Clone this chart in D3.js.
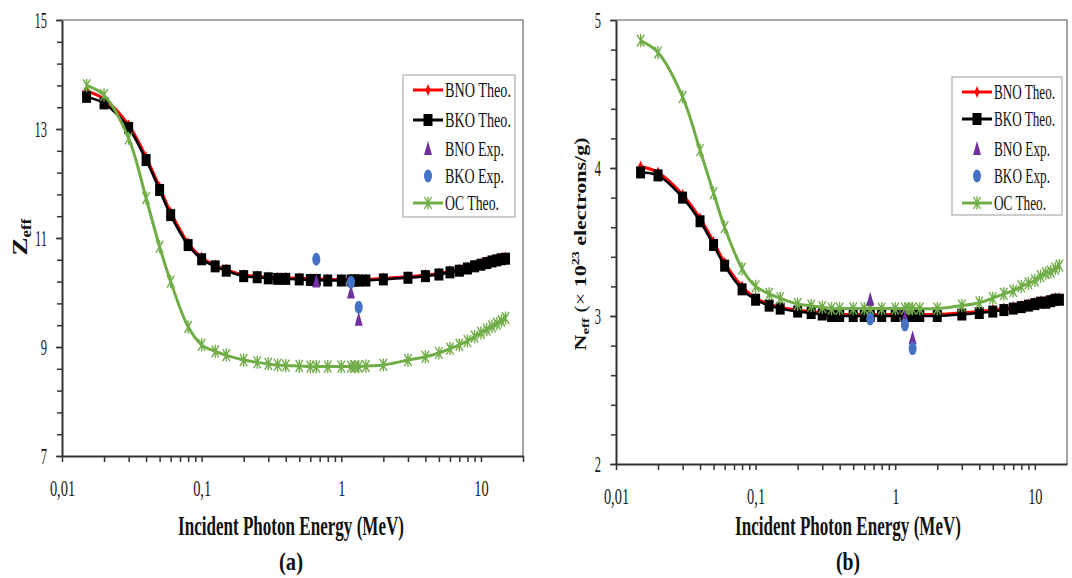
<!DOCTYPE html>
<html>
<head>
<meta charset="utf-8">
<script src="https://cdn.jsdelivr.net/npm/d3@7"></script>
<style>
  body { margin: 0; background: #fff; }
  svg { display: block; font-family: "Liberation Serif", "Times New Roman", serif; }
</style>
</head>
<body>
<svg width="1072" height="578"></svg>
<script>
// photon energies (MeV) for the theoretical curves
var energy = [0.015, 0.02, 0.03, 0.04, 0.05, 0.06, 0.08, 0.1, 0.125, 0.15, 0.2, 0.25, 0.3, 0.35, 0.4, 0.5, 0.6, 0.662, 0.8, 1,
              1.173, 1.25, 1.332, 1.5, 2, 3, 4, 5, 6, 7, 8, 9, 10, 11, 12, 13, 14, 15];
var expEnergy = [0.662, 1.173, 1.332];

// (a) Zeff
var zBNO = [13.70, 13.55, 13.07, 12.48, 11.93, 11.47, 10.91, 10.64, 10.50, 10.42, 10.32, 10.30, 10.28, 10.27, 10.27, 10.26, 10.25, 10.25, 10.24, 10.24,
            10.24, 10.24, 10.24, 10.24, 10.26, 10.29, 10.32, 10.35, 10.39, 10.42, 10.46, 10.50, 10.53, 10.56, 10.59, 10.61, 10.63, 10.64];
var zBKO = [13.59, 13.47, 13.02, 12.43, 11.88, 11.42, 10.87, 10.61, 10.48, 10.40, 10.30, 10.28, 10.26, 10.25, 10.25, 10.24, 10.23, 10.23, 10.22, 10.22,
            10.22, 10.22, 10.22, 10.22, 10.24, 10.27, 10.30, 10.33, 10.37, 10.40, 10.44, 10.48, 10.51, 10.54, 10.57, 10.59, 10.61, 10.62];
var zOC  = [13.80, 13.62, 12.83, 11.73, 10.84, 10.20, 9.37, 9.04, 8.92, 8.85, 8.76, 8.72, 8.69, 8.67, 8.66, 8.65, 8.64, 8.64, 8.64, 8.64,
            8.64, 8.64, 8.64, 8.65, 8.67, 8.76, 8.82, 8.89, 8.97, 9.04, 9.11, 9.19, 9.26, 9.32, 9.38, 9.43, 9.48, 9.53];
var zBNOexp = [10.20, 10.00, 9.50];
var zBKOexp = [10.61, 10.19, 9.73];

// (b) Neff (x 10^23 electrons/g)
var nBNO = [4.01, 3.97, 3.82, 3.66, 3.50, 3.36, 3.20, 3.12, 3.08, 3.06, 3.04, 3.03, 3.02, 3.01, 3.01, 3.01, 3.01, 3.01, 3.01, 3.01,
            3.01, 3.01, 3.01, 3.01, 3.01, 3.02, 3.03, 3.04, 3.05, 3.06, 3.07, 3.08, 3.09, 3.10, 3.10, 3.11, 3.12, 3.12];
var nBKO = [3.97, 3.95, 3.80, 3.64, 3.48, 3.34, 3.18, 3.11, 3.07, 3.05, 3.03, 3.02, 3.01, 3.00, 3.00, 3.00, 3.00, 3.00, 3.00, 3.00,
            3.00, 3.00, 3.00, 3.00, 3.00, 3.01, 3.02, 3.03, 3.04, 3.05, 3.06, 3.07, 3.08, 3.09, 3.09, 3.10, 3.11, 3.11];
var nOC  = [4.86, 4.78, 4.48, 4.12, 3.83, 3.60, 3.32, 3.20, 3.15, 3.12, 3.08, 3.07, 3.06, 3.05, 3.05, 3.05, 3.05, 3.05, 3.05, 3.05,
            3.05, 3.05, 3.05, 3.05, 3.05, 3.07, 3.09, 3.12, 3.15, 3.17, 3.20, 3.22, 3.24, 3.27, 3.29, 3.30, 3.32, 3.34];
var nBNOexp = [3.11, 2.99, 2.85];
var nBKOexp = [2.98, 2.94, 2.78];

var legendLabels = ["BNO Theo.", "BKO Theo.", "BNO Exp.", "BKO Exp.", "OC Theo."];
var xTickValues = [0.01, 0.1, 1, 10];
var xTickLabels = ["0,01", "0,1", "1", "10"];

var svg = d3.select("svg");
var RED = "#ff0000", GREEN = "#70ad47", PURPLE = "#7030a0", BLUE = "#4472c4";

// the original picture is narrowed, so squeeze text horizontally
function squeeze(f) {
  return function() {
    var s = d3.select(this);
    var x = +s.attr("x") || 0, y = +s.attr("y") || 0;
    s.attr("x", 0).attr("y", 0)
     .attr("transform", "translate(" + x + "," + y + ") scale(" + f + ",1)");
  };
}
// squeeze to a given width
function fitText(el, w) {
  var n = el.node().getComputedTextLength();
  el.call(function(s) { s.each(squeeze(w / n)); });
}

function starPath(s) {
  var w = s * 0.6, h = s;
  return "M" + (-w) + "," + (-h) + "L" + w + "," + h +
         "M" + (-w) + "," + h + "L" + w + "," + (-h) +
         "M0," + (-h * 1.1) + "L0," + (h * 1.1);
}

function panel(p) {
  var x = d3.scaleLog().domain([0.01, p.xmax]).range([p.left, p.right]);
  var y = d3.scaleLinear().domain(p.ydom).range([p.bottom, p.top]);
  var g = svg.append("g");

  // frame top / right
  g.append("path")
      .attr("d", "M" + p.left + "," + p.top + "H" + p.right + "V" + p.bottom)
      .attr("fill", "none").attr("stroke", "#8c8c8c").attr("stroke-width", 1.6);

  // minor ticks on y
  var minor = d3.range(p.ydom[0], p.ydom[1] + 1e-9, p.ystep);
  g.append("g")
      .attr("transform", "translate(" + p.left + ",0)")
      .call(d3.axisLeft(y).tickValues(minor).tickSize(5).tickFormat(""))
      .call(function(a) { a.select(".domain").remove(); a.selectAll("line").attr("stroke", "#333").attr("stroke-width", 1.5); });

  var ya = g.append("g")
      .attr("transform", "translate(" + p.left + ",0)")
      .call(d3.axisLeft(y).tickValues(p.yticks).tickSize(6).tickSizeOuter(0).tickPadding(9).tickFormat(d3.format("d")));
  ya.select(".domain").attr("stroke", "#333").attr("stroke-width", 2);
  ya.selectAll("line").attr("stroke", "#333").attr("stroke-width", 1.5);
  ya.selectAll("text").attr("font-family", "Liberation Serif").attr("font-size", 24).attr("fill", "#1a1a1a")
      .each(squeeze(0.52));

  // x ticks: decades + 2..9
  var xt = [];
  for (var d = 0.01; d < p.xmax; d *= 10)
    for (var k = 1; k < 10; k++) if (d * k <= p.xmax) xt.push(+(d * k).toPrecision(3));
  var xa = g.append("g")
      .attr("transform", "translate(0," + p.bottom + ")")
      .call(d3.axisBottom(x).tickValues(xt).tickSize(6).tickSizeOuter(0).tickPadding(17)
        .tickFormat(function(v) { var i = xTickValues.indexOf(v); return i < 0 ? "" : xTickLabels[i]; }));
  xa.select(".domain").attr("stroke", "#333").attr("stroke-width", 2);
  xa.selectAll("line").attr("stroke", "#333").attr("stroke-width", 1.5);
  xa.selectAll("text").attr("font-family", "Liberation Serif").attr("font-size", 24).attr("fill", "#1a1a1a")
      .filter(function(v) { return xTickValues.indexOf(v) >= 0; })
      .each(squeeze(0.6));

  var line = d3.line()
      .x(function(d, i) { return x(energy[i]); })
      .y(function(d) { return y(d); })
      .curve(d3.curveCatmullRom);

  // BNO theo (red)
  g.append("path").datum(p.bno).attr("d", line)
      .attr("fill", "none").attr("stroke", RED).attr("stroke-width", 3);
  g.selectAll(".rm").data(p.bno).enter().append("path")
      .attr("transform", function(d, i) { return "translate(" + x(energy[i]) + "," + y(d) + ")"; })
      .attr("d", "M0,-6L2.5,0L0,6L-2.5,0Z").attr("fill", RED);

  // BKO theo (black)
  g.append("path").datum(p.bko).attr("d", line)
      .attr("fill", "none").attr("stroke", "#000").attr("stroke-width", 2.5);
  g.selectAll(".bm").data(p.bko).enter().append("rect")
      .attr("x", function(d, i) { return x(energy[i]) - 4.5; })
      .attr("y", function(d) { return y(d) - 6; })
      .attr("width", 9).attr("height", 12).attr("fill", "#000");

  // OC theo (green)
  g.append("path").datum(p.oc).attr("d", line)
      .attr("fill", "none").attr("stroke", GREEN).attr("stroke-width", 3);
  g.selectAll(".gm").data(p.oc).enter().append("path")
      .attr("transform", function(d, i) { return "translate(" + x(energy[i]) + "," + y(d) + ")"; })
      .attr("d", starPath(6)).attr("fill", "none").attr("stroke", GREEN).attr("stroke-width", 1.4);

  // experimental points
  g.selectAll(".tri").data(p.bnoExp).enter().append("path")
      .attr("transform", function(d, i) { return "translate(" + x(expEnergy[i]) + "," + y(d) + ")"; })
      .attr("d", "M0,-8L4,6L-4,6Z").attr("fill", PURPLE);
  g.selectAll(".cir").data(p.bkoExp).enter().append("ellipse")
      .attr("cx", function(d, i) { return x(expEnergy[i]); })
      .attr("cy", function(d) { return y(d); })
      .attr("rx", 4).attr("ry", 6.5).attr("fill", BLUE);

  // legend
  var lg = g.append("g");
  lg.append("rect")
      .attr("x", p.leg.x).attr("y", p.leg.y).attr("width", p.leg.w).attr("height", p.leg.h)
      .attr("fill", "#fff").attr("stroke", "#bdbdbd").attr("stroke-width", 1.5);
  var lx0 = p.leg.x + 10, lx1 = p.leg.x + 40, lxm = (lx0 + lx1) / 2;
  legendLabels.forEach(function(name, i) {
    var ly = p.leg.rows[i];
    var e = lg.append("g");
    if (i === 0) {
      e.append("line").attr("x1", lx0).attr("x2", lx1).attr("y1", ly).attr("y2", ly).attr("stroke", RED).attr("stroke-width", 3);
      e.append("path").attr("transform", "translate(" + lxm + "," + ly + ")").attr("d", "M0,-6L2.5,0L0,6L-2.5,0Z").attr("fill", RED);
    } else if (i === 1) {
      e.append("line").attr("x1", lx0).attr("x2", lx1).attr("y1", ly).attr("y2", ly).attr("stroke", "#000").attr("stroke-width", 3);
      e.append("rect").attr("x", lxm - 4.5).attr("y", ly - 6).attr("width", 9).attr("height", 12).attr("fill", "#000");
    } else if (i === 2) {
      e.append("path").attr("transform", "translate(" + lxm + "," + ly + ")").attr("d", "M0,-8L4,6L-4,6Z").attr("fill", PURPLE);
    } else if (i === 3) {
      e.append("ellipse").attr("cx", lxm).attr("cy", ly).attr("rx", 4).attr("ry", 6.5).attr("fill", BLUE);
    } else {
      e.append("line").attr("x1", lx0).attr("x2", lx1).attr("y1", ly).attr("y2", ly).attr("stroke", GREEN).attr("stroke-width", 3);
      e.append("path").attr("transform", "translate(" + lxm + "," + ly + ")").attr("d", starPath(6))
          .attr("fill", "none").attr("stroke", GREEN).attr("stroke-width", 1.4);
    }
    var t = e.append("text").attr("x", lx1 + 2).attr("y", ly + 7)
        .attr("font-size", 20).attr("fill", "#111")
        .text(name);
    fitText(t, p.leg.tw[i]);
  });

  // x title and panel letter
  var tt = g.append("text").attr("x", p.titleX).attr("y", 535).attr("text-anchor", "middle")
      .attr("font-size", 27).attr("font-weight", "bold").attr("fill", "#111")
      .text("Incident Photon Energy (MeV)");
  fitText(tt, 226);
  var lt = g.append("text").attr("x", p.titleX).attr("y", 570).attr("text-anchor", "middle")
      .attr("font-size", 25).attr("font-weight", "bold").attr("fill", "#111")
      .text(p.letter);
  fitText(lt, 24);
  return g;
}

panel({
  left: 62, right: 523, top: 20, bottom: 456, xmax: 20,
  ydom: [7, 15], yticks: [7, 9, 11, 13, 15], ystep: 0.4,
  bno: zBNO, bko: zBKO, oc: zOC, bnoExp: zBNOexp, bkoExp: zBKOexp,
  leg: { x: 403, y: 75, w: 112, h: 142, rows: [90, 120, 149, 176, 203], tw: [66, 66, 59, 59, 54] },
  titleX: 291, letter: "(a)"
});

panel({
  left: 616, right: 1067, top: 20, bottom: 464, xmax: 17,
  ydom: [2, 5], yticks: [2, 3, 4, 5], ystep: 0.2,
  bno: nBNO, bko: nBKO, oc: nOC, bnoExp: nBNOexp, bkoExp: nBKOexp,
  leg: { x: 952, y: 77, w: 110, h: 138, rows: [92, 119, 149, 176, 203], tw: [61, 61, 56, 56, 52] },
  titleX: 848, letter: "(b)"
});

// y titles
var zt = svg.append("text")
    .attr("transform", "translate(27,237) scale(0.8,1) rotate(-90)")
    .attr("text-anchor", "middle").attr("font-size", 27).attr("font-weight", "bold").attr("fill", "#111");
zt.append("tspan").text("Z");
zt.append("tspan").attr("font-size", 17).attr("dy", 5).text("eff");

var nt = svg.append("text")
    .attr("transform", "translate(586,244) scale(0.75,1) rotate(-90)")
    .attr("text-anchor", "middle").attr("font-size", 22).attr("font-weight", "bold").attr("fill", "#111");
nt.append("tspan").text("N");
nt.append("tspan").attr("font-size", 15).attr("dy", 4).text("eff");
nt.append("tspan").attr("dy", -4).attr("font-weight", "normal").text(" (\u00d7 ");
nt.append("tspan").text("10");
nt.append("tspan").attr("font-size", 14).attr("dy", -9).text("23");
nt.append("tspan").attr("dy", 9).text(" electrons/g)");
</script>
</body>
</html>
